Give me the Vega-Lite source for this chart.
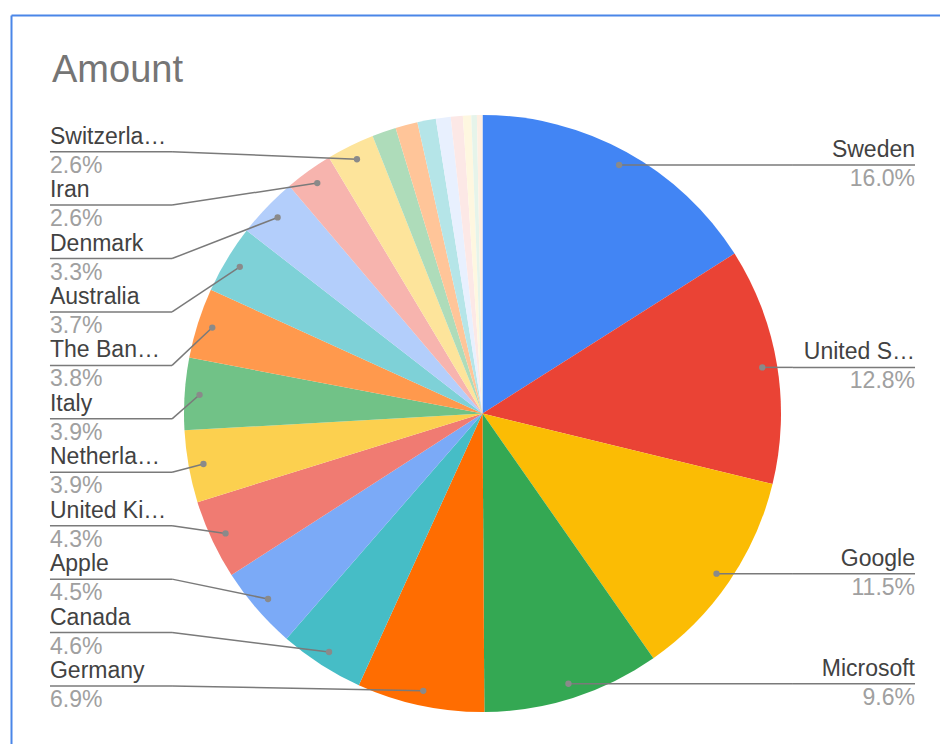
{
  "$schema": "https://vega.github.io/schema/vega-lite/v6.json",
  "width": 929,
  "height": 729,
  "autosize": {"type": "none"},
  "padding": {"left": 11, "top": 15, "right": 0, "bottom": 0},
  "background": "white",
  "config": {
    "view": {"stroke": null},
    "font": "Liberation Sans",
    "axis": {"domain": true, "domainColor": "#4a86e8", "domainWidth": 2, "ticks": false, "labels": false, "grid": false, "title": null}
  },
  "title": {
    "text": "Amount",
    "anchor": "start",
    "frame": "group",
    "orient": "top",
    "fontSize": 38,
    "fontWeight": "normal",
    "color": "#757575",
    "font": "Liberation Sans",
    "baseline": "alphabetic",
    "offset": 0,
    "dx": 41,
    "dy": 105
  },
  "data": {
    "values": [
      {"name": "Sweden", "amount": 16.0},
      {"name": "United States", "amount": 12.8},
      {"name": "Google", "amount": 11.5},
      {"name": "Microsoft", "amount": 9.6},
      {"name": "Germany", "amount": 6.9},
      {"name": "Canada", "amount": 4.6},
      {"name": "Apple", "amount": 4.5},
      {"name": "United Kingdom", "amount": 4.3},
      {"name": "Netherlands", "amount": 3.9},
      {"name": "Italy", "amount": 3.9},
      {"name": "The Bank of England", "amount": 3.8},
      {"name": "Australia", "amount": 3.7},
      {"name": "Denmark", "amount": 3.3},
      {"name": "Iran", "amount": 2.6},
      {"name": "Switzerland", "amount": 2.6},
      {"name": "Norway", "amount": 1.3},
      {"name": "Finland", "amount": 1.2},
      {"name": "France", "amount": 1.0},
      {"name": "Japan", "amount": 0.8},
      {"name": "Spain", "amount": 0.65},
      {"name": "Israel", "amount": 0.45},
      {"name": "Belgium", "amount": 0.3},
      {"name": "Amazon", "amount": 0.3}
    ]
  },
  "transform": [
    {"window": [{"op": "row_number", "as": "idx"}]},
    {"joinaggregate": [{"op": "sum", "field": "amount", "as": "total"}]},
    {"window": [{"op": "sum", "field": "amount", "as": "cum"}], "sort": [{"field": "idx", "order": "ascending"}], "frame": [null, 0]},
    {"calculate": "datum.amount / datum.total", "as": "pct"},
    {"calculate": "(datum.cum - datum.amount / 2) / datum.total * 2 * PI", "as": "mid"},
    {"calculate": "0.95 * sin(datum.mid)", "as": "dotx"},
    {"calculate": "0.95 * cos(datum.mid)", "as": "doty"}
  ],
  "layer": [
    {
      "mark": {"type": "arc", "outerRadius": 298.5},
      "encoding": {
        "theta": {"field": "amount", "type": "quantitative", "stack": true},
        "order": {"field": "idx", "type": "quantitative"},
        "color": {
          "field": "name",
          "type": "nominal",
          "legend": null,
          "scale": {
            "domain": ["Sweden", "United States", "Google", "Microsoft", "Germany", "Canada", "Apple", "United Kingdom", "Netherlands", "Italy", "The Bank of England", "Australia", "Denmark", "Iran", "Switzerland", "Norway", "Finland", "France", "Japan", "Spain", "Israel", "Belgium", "Amazon"],
            "range": ["#4285f4", "#ea4335", "#fbbc04", "#34a853", "#ff6d01", "#46bdc6", "#7baaf7", "#f07b72", "#fcd04f", "#71c287", "#ff994d", "#7ed1d7", "#b3cefb", "#f7b4ae", "#fde49b", "#aedcba", "#ffc599", "#b5e5e8", "#e8f0fe", "#fce8e6", "#fef7e0", "#e6f4ea", "#feefe3"]
          }
        },
        "x": {"datum": 0, "type": "quantitative", "axis": {"orient": "top"}, "scale": {"domain": [-1.5796, 1.5327], "nice": false, "zero": false}},
        "y": {"datum": 0, "type": "quantitative", "axis": {"orient": "left"}, "scale": {"domain": [-1.1072, 1.3350], "nice": false, "zero": false}}
      }
    },
    {
      "transform": [
        {"filter": "datum.pct >= 0.02"},
        {"calculate": "datum.mid < PI ? 1 : -1", "as": "side"},
        {"window": [{"op": "row_number", "as": "k"}], "groupby": ["side"], "sort": [{"field": "idx", "order": "ascending"}]},
        {"calculate": "datum.side > 0 ? datum.doty : -0.9129 + (datum.k - 1) * 0.179", "as": "liney"},
        {"calculate": "datum.side * 1.040", "as": "elbowx"},
        {"calculate": "datum.side * 1.449", "as": "endx"},
        {"calculate": "format(datum.pct, '.1%')", "as": "pctlabel"}
      ],
      "layer": [
        {
          "mark": {"type": "rule", "color": "#7a7a7a", "strokeWidth": 1.5},
          "encoding": {
            "x": {"field": "dotx", "type": "quantitative", "axis": {"orient": "top"}},
            "y": {"field": "doty", "type": "quantitative", "axis": {"orient": "left"}},
            "x2": {"field": "elbowx"},
            "y2": {"field": "liney"}
          }
        },
        {
          "mark": {"type": "rule", "color": "#7a7a7a", "strokeWidth": 1.5},
          "encoding": {
            "x": {"field": "elbowx", "type": "quantitative", "axis": {"orient": "top"}},
            "y": {"field": "liney", "type": "quantitative", "axis": {"orient": "left"}},
            "x2": {"field": "endx"}
          }
        },
        {
          "mark": {"type": "point", "filled": true, "shape": "circle", "size": 40, "color": "#8a8a8a", "opacity": 1},
          "encoding": {
            "x": {"field": "dotx", "type": "quantitative", "axis": {"orient": "top"}},
            "y": {"field": "doty", "type": "quantitative", "axis": {"orient": "left"}}
          }
        },
        {
          "transform": [{"filter": "datum.side > 0"}],
          "mark": {"type": "text", "align": "right", "baseline": "alphabetic", "dy": -8, "fontSize": 23, "color": "#424242", "limit": 117},
          "encoding": {
            "x": {"field": "endx", "type": "quantitative", "axis": {"orient": "top"}},
            "y": {"field": "liney", "type": "quantitative", "axis": {"orient": "left"}},
            "text": {"field": "name"}
          }
        },
        {
          "transform": [{"filter": "datum.side < 0"}],
          "mark": {"type": "text", "align": "left", "baseline": "alphabetic", "dy": -8, "fontSize": 23, "color": "#424242", "limit": 117},
          "encoding": {
            "x": {"field": "endx", "type": "quantitative", "axis": {"orient": "top"}},
            "y": {"field": "liney", "type": "quantitative", "axis": {"orient": "left"}},
            "text": {"field": "name"}
          }
        },
        {
          "transform": [{"filter": "datum.side > 0"}],
          "mark": {"type": "text", "align": "right", "baseline": "alphabetic", "dy": 21, "fontSize": 23, "color": "#a0a0a0"},
          "encoding": {
            "x": {"field": "endx", "type": "quantitative", "axis": {"orient": "top"}},
            "y": {"field": "liney", "type": "quantitative", "axis": {"orient": "left"}},
            "text": {"field": "pctlabel"}
          }
        },
        {
          "transform": [{"filter": "datum.side < 0"}],
          "mark": {"type": "text", "align": "left", "baseline": "alphabetic", "dy": 21, "fontSize": 23, "color": "#a0a0a0"},
          "encoding": {
            "x": {"field": "endx", "type": "quantitative", "axis": {"orient": "top"}},
            "y": {"field": "liney", "type": "quantitative", "axis": {"orient": "left"}},
            "text": {"field": "pctlabel"}
          }
        }
      ]
    }
  ]
}
